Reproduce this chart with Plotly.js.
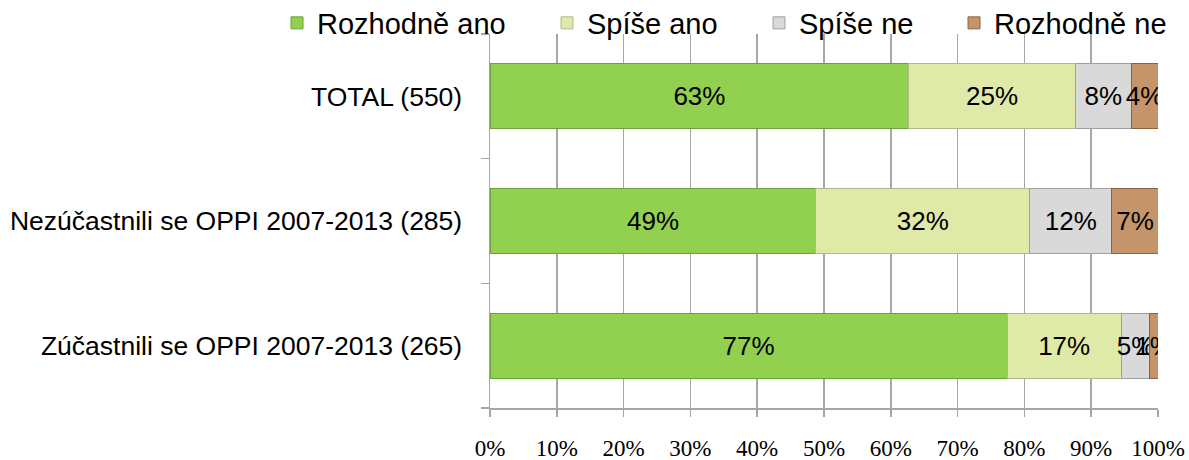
<!DOCTYPE html>
<html>
<head>
<meta charset="utf-8">
<script src="https://cdn.plot.ly/plotly-3.0.1.min.js"></script>
<style>html,body{margin:0;padding:0;background:#fff;}#chart{width:1189px;height:460px;}</style>
</head>
<body>
<div id="chart"></div>
<script>
const categories = ["TOTAL (550)", "Nezúčastnili se OPPI 2007-2013 (285)", "Zúčastnili se OPPI 2007-2013 (265)"];
const seriesNames = ["Rozhodně ano", "Spíše ano", "Spíše ne", "Rozhodně ne"];
const rozhodneAno = [62.7, 48.8, 77.4];
const spiseAno = [24.9, 32.0, 17.1];
const spiseNe = [8.4, 12.3, 4.3];
const rozhodneNe = [4.0, 6.9, 1.2];
const labelsAno = ["63%", "49%", "77%"];
const labelsSpiseAno = ["25%", "32%", "17%"];
const labelsSpiseNe = ["8%", "12%", "5%"];
const labelsNe = ["4%", "7%", "1%"];
const xTickVals = [0,10,20,30,40,50,60,70,80,90,100];
const xTickText = ["0%","10%","20%","30%","40%","50%","60%","70%","80%","90%","100%"];

const colors = ["#92d050", "#dfe9a8", "#d9d9d9", "#c4956a"];
const lineColors = ["#6f9e3a", "#b3b98a", "#a0a0a0", "#8a6440"];
const legendX = [277, 547, 759, 954];
const values = [rozhodneAno, spiseAno, spiseNe, rozhodneNe];
const texts = [labelsAno, labelsSpiseAno, labelsSpiseNe, labelsNe];
const legendIds = ["legend", "legend2", "legend3", "legend4"];

const traces = seriesNames.map((name, i) => ({
  type: "bar",
  orientation: "h",
  name: name,
  legend: legendIds[i],
  y: categories,
  x: values[i],
  text: texts[i],
  textposition: "inside",
  insidetextanchor: "middle",
  textangle: 0,
  textfont: {family: "Liberation Sans, Arial, sans-serif", size: 26, color: "#000"},
  marker: {color: colors[i], line: {color: lineColors[i], width: 1}},
  hoverinfo: "skip"
}));

const layout = {
  width: 1189, height: 460,
  margin: {l: 490, r: 31, t: 34, b: 52, autoexpand: false},
  barmode: "stack",
  bargap: 0.48,
  paper_bgcolor: "#fff", plot_bgcolor: "#fff",
  showlegend: true,
  uniformtext: {mode: "show", minsize: 26},
  xaxis: {
    range: [0, 100], tickvals: xTickVals, ticktext: xTickText,
    showgrid: true, gridcolor: "#a6a6a6", gridwidth: 1.5,
    showline: true, linecolor: "#a6a6a6", linewidth: 1.5,
    ticks: "outside", ticklen: 7, tickcolor: "#a6a6a6", tickwidth: 1.5,
    tickfont: {family: "Liberation Serif, Times New Roman, serif", size: 23, color: "#000"},
    ticklabelstandoff: 12, zeroline: false, fixedrange: true
  },
  yaxis: {
    type: "category", categoryorder: "array", categoryarray: categories.slice().reverse(),
    tickson: "boundaries", ticks: "outside", ticklen: 8, tickcolor: "#a6a6a6", tickwidth: 1.5,
    showgrid: false, showline: true, linecolor: "#a6a6a6", linewidth: 1.5,
    tickfont: {family: "Liberation Sans, Arial, sans-serif", size: 26.5, color: "#000"},
    ticklabelstandoff: 21, fixedrange: true
  }
};
legendIds.forEach((id, i) => {
  layout[id] = {
    orientation: "h", xref: "container", yref: "container",
    x: legendX[i] / 1189, xanchor: "left", y: 1 - 23 / 460, yanchor: "middle",
    font: {family: "Liberation Sans, Arial, sans-serif", size: 29, color: "#000"},
    bgcolor: "rgba(0,0,0,0)", itemclick: false
  };
});

Plotly.newPlot("chart", traces, layout, {displayModeBar: false, staticPlot: true});
</script>
</body>
</html>
